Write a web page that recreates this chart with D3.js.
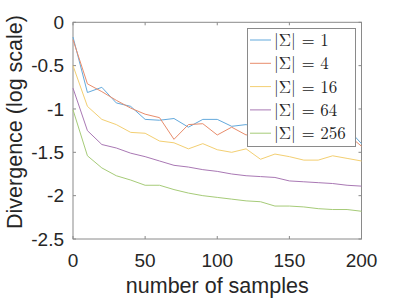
<!DOCTYPE html>
<html>
<head>
<meta charset="utf-8">
<script src="https://cdn.jsdelivr.net/npm/d3@7"></script>
<style>
  body { margin: 0; background: #fff; }
  svg { display: block; }
  .tick-label { font-family: "Liberation Sans", Arial, sans-serif; font-size: 19px; fill: #262626; }
  .ax-label { font-family: "Liberation Sans", Arial, sans-serif; font-size: 21.5px; fill: #262626; }
  .leg-text { font-family: "Latin Modern Roman", "DejaVu Serif", serif; font-size: 17px; fill: #262626; }
</style>
</head>
<body>
<svg class="chart"></svg>
<script>
var width = 399;
var height = 299;

// sample counts along x
var samples = [0, 10, 20, 30, 40, 50, 60, 70, 80, 90, 100, 110, 120, 130, 140, 150, 160, 170, 180, 190, 200];

// log divergence for each alphabet size
var sigma1 = [-0.17, -0.81, -0.75, -0.93, -0.97, -1.12, -1.13, -1.11, -1.21, -1.12, -1.12, -1.20, -1.18, -1.24, -1.21, -1.26, -1.23, -1.28, -1.25, -1.22, -1.40];
var sigma4 = [-0.20, -0.71, -0.80, -0.90, -0.99, -1.06, -1.10, -1.35, -1.18, -1.17, -1.30, -1.21, -1.30, -1.25, -1.33, -1.27, -1.35, -1.30, -1.36, -1.29, -1.43];
var sigma16 = [-0.50, -0.97, -1.12, -1.18, -1.27, -1.28, -1.37, -1.39, -1.46, -1.40, -1.47, -1.50, -1.46, -1.58, -1.52, -1.55, -1.59, -1.59, -1.54, -1.57, -1.60];
var sigma64 = [-0.76, -1.25, -1.41, -1.45, -1.51, -1.55, -1.60, -1.65, -1.67, -1.70, -1.72, -1.75, -1.77, -1.78, -1.79, -1.83, -1.84, -1.85, -1.86, -1.88, -1.89];
var sigma256 = [-1.01, -1.54, -1.68, -1.77, -1.82, -1.88, -1.88, -1.93, -1.97, -2.00, -2.02, -2.04, -2.06, -2.07, -2.12, -2.12, -2.13, -2.15, -2.16, -2.16, -2.18];

var seriesNames = ["|\u03A3| = 1", "|\u03A3| = 4", "|\u03A3| = 16", "|\u03A3| = 64", "|\u03A3| = 256"];
var xTicks = [0, 50, 100, 150, 200];
var yTicks = [0, -0.5, -1, -1.5, -2, -2.5];

var colors = ["#63a9dc", "#e88d6c", "#f3cf72", "#a978b4", "#a6cb78"];
var allSeries = [sigma1, sigma4, sigma16, sigma64, sigma256];

var plot = { left: 73, right: 361.5, top: 22.3, bottom: 239 };

var x = d3.scaleLinear().domain([0, 200]).range([plot.left, plot.right]);
var y = d3.scaleLinear().domain([-2.5, 0]).range([plot.bottom, plot.top]);

var chart = d3.select(".chart")
    .attr("width", width)
    .attr("height", height);

var axisColor = "#8a8a8a";

// box
chart.append("rect")
    .attr("x", plot.left)
    .attr("y", plot.top)
    .attr("width", plot.right - plot.left)
    .attr("height", plot.bottom - plot.top)
    .attr("fill", "none")
    .attr("stroke", axisColor)
    .attr("stroke-width", 1);

// inward ticks on all four sides
var tickLen = 3;
var g = chart.append("g");
xTicks.forEach(function(t) {
    g.append("line").attr("x1", x(t)).attr("x2", x(t))
        .attr("y1", plot.bottom).attr("y2", plot.bottom - tickLen)
        .attr("stroke", axisColor);
    g.append("line").attr("x1", x(t)).attr("x2", x(t))
        .attr("y1", plot.top).attr("y2", plot.top + tickLen)
        .attr("stroke", axisColor);
    g.append("text").attr("class", "tick-label")
        .attr("x", x(t)).attr("y", 266.5)
        .attr("text-anchor", "middle")
        .text(t);
});
yTicks.forEach(function(t) {
    g.append("line").attr("x1", plot.left).attr("x2", plot.left + tickLen)
        .attr("y1", y(t)).attr("y2", y(t))
        .attr("stroke", axisColor);
    g.append("line").attr("x1", plot.right).attr("x2", plot.right - tickLen)
        .attr("y1", y(t)).attr("y2", y(t))
        .attr("stroke", axisColor);
    g.append("text").attr("class", "tick-label")
        .attr("x", 64).attr("y", y(t))
        .attr("dy", "0.35em")
        .attr("text-anchor", "end")
        .text(String(t).replace("\u2212", "-"));
});

// lines
var line = d3.line()
    .x(function(d, i) { return x(samples[i]); })
    .y(function(d) { return y(d); });

chart.selectAll("path.series")
    .data(allSeries)
    .enter()
    .append("path")
    .attr("class", "series")
    .attr("d", line)
    .attr("fill", "none")
    .attr("stroke", function(d, i) { return colors[i]; })
    .attr("stroke-width", 1);

// axis labels
chart.append("text").attr("class", "ax-label")
    .attr("x", (plot.left + plot.right) / 2)
    .attr("y", 293)
    .attr("text-anchor", "middle")
    .text("number of samples");

chart.append("text").attr("class", "ax-label")
    .attr("transform", "translate(22,122) rotate(-90)")
    .attr("text-anchor", "middle")
    .text("Divergence (log scale)");

// legend
var leg = chart.append("g");
leg.append("rect")
    .attr("x", 247.5).attr("y", 28.5)
    .attr("width", 108).attr("height", 118)
    .attr("fill", "#fff")
    .attr("stroke", axisColor);

seriesNames.forEach(function(name, i) {
    var cy = 40 + i * 23.3;
    leg.append("line")
        .attr("x1", 250).attr("x2", 271)
        .attr("y1", cy).attr("y2", cy)
        .attr("stroke", colors[i]);
    leg.append("text").attr("class", "leg-text")
        .attr("x", 274).attr("y", cy)
        .attr("dy", "0.35em")
        .text(name);
});
</script>
</body>
</html>
